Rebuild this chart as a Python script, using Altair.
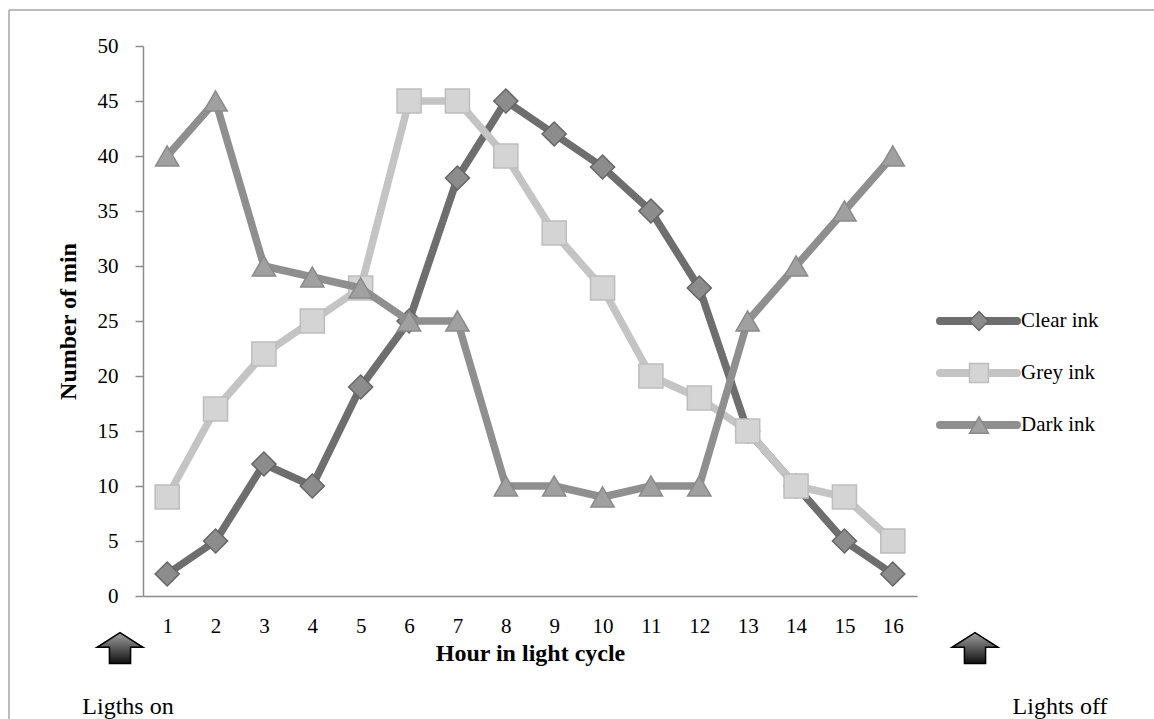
import altair as alt
import pandas as pd

hours = list(range(1, 17))
series_names = ["Clear ink", "Grey ink", "Dark ink"]
clear_ink = [2, 5, 12, 10, 19, 25, 38, 45, 42, 39, 35, 28, 15, 10, 5, 2]
grey_ink = [9, 17, 22, 25, 28, 45, 45, 40, 33, 28, 20, 18, 15, 10, 9, 5]
dark_ink = [40, 45, 30, 29, 28, 25, 25, 10, 10, 9, 10, 10, 25, 30, 35, 40]
y_ticks = list(range(0, 51, 5))

line_colors = ["#6e6e6e", "#c4c4c4", "#8f8f8f"]
marker_fill = ["#8c8c8c", "#d4d4d4", "#a0a0a0"]
marker_stroke = ["#666666", "#bdbdbd", "#8a8a8a"]
shapes = ["diamond", "square", "triangle-up"]
sizes = [580, 580, 540]

FONT = "Liberation Serif"
FS = 21
TFS = 24
W, H = 774, 550
PAD = {"left": 143, "top": 46, "right": 1154 - 143 - W, "bottom": 719 - 46 - H}

rows = []
for name, vals in zip(series_names, [clear_ink, grey_ink, dark_ink]):
    for h, v in zip(hours, vals):
        rows.append({"hour": h, "value": v, "series": name})
df = pd.DataFrame(rows)

x_enc = alt.X("hour:O", scale=alt.Scale(type="point", padding=0.5),
              axis=alt.Axis(title="Hour in light cycle", labelAngle=0, ticks=False, tickSize=0,
                            labelPadding=19, labelFontSize=FS, labelFont=FONT, labelColor="#000",
                            domainColor="#8c8c8c", domainWidth=1.5,
                            titleFont=FONT, titleFontSize=TFS, titleFontWeight="bold",
                            titleColor="#000", titleY=57, titleBaseline="middle", grid=False))
y_enc = alt.Y("value:Q", scale=alt.Scale(domain=[0, 50], nice=False),
              axis=alt.Axis(title="Number of min", values=y_ticks, tickSize=8, tickColor="#8c8c8c",
                            domainColor="#8c8c8c", domainWidth=1.5, tickWidth=1.5,
                            labelPadding=17, labelFontSize=FS, labelFont=FONT, labelColor="#000",
                            titleFont=FONT, titleFontSize=TFS, titleFontWeight="bold", titleColor="#000",
                            titleX=-75, titleY=H / 2, titleAngle=270, titleBaseline="middle",
                            grid=False))

layers = []
for i, name in enumerate(series_names):
    base = alt.Chart(df).transform_filter(alt.datum.series == name)
    line = base.mark_line(color=line_colors[i], strokeWidth=7.5, strokeJoin="round", strokeCap="round").encode(
        x=x_enc, y=y_enc)
    pts = base.mark_point(shape=shapes[i], filled=True, fill=marker_fill[i], stroke=marker_stroke[i],
                          strokeWidth=1.5, size=sizes[i], opacity=1).encode(x=x_enc, y=y_enc)
    layers += [line, pts]

# legend (manual, mimicking line + marker swatches)
leg_df = pd.DataFrame({"series": series_names})
leg_y = [275, 327, 379]
for i, name in enumerate(series_names):
    ldf = leg_df[leg_df.series == name]
    layers.append(alt.Chart(ldf).mark_rule(color=line_colors[i], strokeWidth=8, strokeCap="round").encode(
        x=alt.value(797), x2=alt.value(874), y=alt.value(leg_y[i])))
    layers.append(alt.Chart(ldf).mark_point(shape=shapes[i], filled=True, fill=marker_fill[i],
                                            stroke=marker_stroke[i], strokeWidth=1.5, size=360, opacity=1).encode(
        x=alt.value(836), y=alt.value(leg_y[i])))
    layers.append(alt.Chart(ldf).mark_text(align="left", baseline="middle", font=FONT, fontSize=FS,
                                           color="#000").encode(
        x=alt.value(878), y=alt.value(leg_y[i]), text="series:N"))

# arrows and light annotations
notes = pd.DataFrame({"label": ["Ligths on", "Lights off"]})
arrow_path = "M0,-0.67 L1,-0.03 L0.46,-0.03 L0.46,0.67 L-0.46,0.67 L-0.46,-0.03 L-1,-0.03 Z"
grad = alt.Gradient(gradient="linear", x1=0, x2=0, y1=0, y2=1,
                    stops=[alt.GradientStop(color="#a0a0a0", offset=0),
                           alt.GradientStop(color="#111111", offset=1)])
for lab, ax, tx in zip(["Ligths on", "Lights off"], [-23, 832], [-15, 917]):
    ndf = notes[notes.label == lab]
    layers.append(alt.Chart(ndf).mark_point(shape=arrow_path, filled=True, fill=grad, stroke="#000",
                                            strokeWidth=1.5, size=2116, opacity=1).encode(
        x=alt.value(ax), y=alt.value(602)))
    layers.append(alt.Chart(ndf).mark_text(align="center", baseline="middle", font=FONT, fontSize=24,
                                           color="#000").encode(
        x=alt.value(tx), y=alt.value(661), text="label:N"))

# outer frame
frame = pd.DataFrame({"k": [0]})
layers.append(alt.Chart(frame).mark_rule(color="#a6a6a6", strokeWidth=1.5).encode(
    x=alt.value(-134), x2=alt.value(1154 - 143), y=alt.value(-36)))
layers.append(alt.Chart(frame).mark_rule(color="#a6a6a6", strokeWidth=1.5).encode(
    x=alt.value(-134), y=alt.value(-36), y2=alt.value(719 - 46)))

chart = alt.layer(*layers).properties(
    width=W, height=H, padding=PAD, autosize=alt.AutoSizeParams(type="none"), background="white"
).configure_view(stroke=None)

chart.save("out.html", embed_options={"renderer": "svg", "actions": False})
